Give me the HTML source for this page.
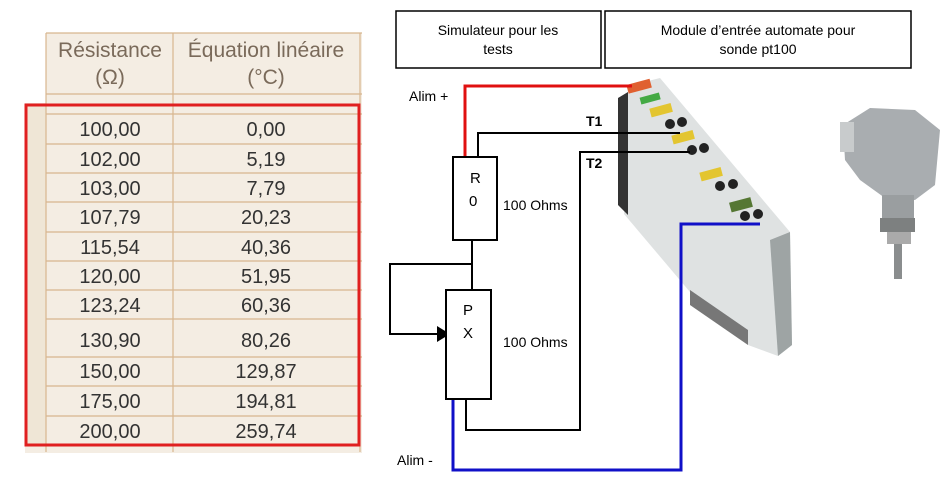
<!DOCTYPE html>
<html><head><meta charset="utf-8"><style>
body{margin:0;width:949px;height:495px;background:#fff;overflow:hidden;font-family:"Liberation Sans",sans-serif}
</style></head><body>
<svg width="949" height="495" viewBox="0 0 949 495" xmlns="http://www.w3.org/2000/svg" font-family="Liberation Sans, sans-serif">
<!-- table -->
<rect x="25" y="33" width="337" height="420" fill="#f4ede3"/>
<rect x="25" y="33" width="21" height="70" fill="#fff"/>
<rect x="25" y="104" width="21" height="342" fill="#efe6d6"/>
<g stroke="#d8b68f" stroke-width="1.2">
<line x1="46" y1="33" x2="362" y2="33"/>
<line x1="46" y1="33" x2="46" y2="452"/>
<line x1="173" y1="33" x2="173" y2="452"/>
<line x1="360" y1="33" x2="360" y2="452"/>
<line x1="46" y1="94" x2="362" y2="94"/>
<line x1="46" y1="114" x2="362" y2="114"/>
<line x1="46" y1="144" x2="362" y2="144"/>
<line x1="46" y1="173" x2="362" y2="173"/>
<line x1="46" y1="202" x2="362" y2="202"/>
<line x1="46" y1="232" x2="362" y2="232"/>
<line x1="46" y1="261" x2="362" y2="261"/>
<line x1="46" y1="290" x2="362" y2="290"/>
<line x1="46" y1="319" x2="362" y2="319"/>
<line x1="46" y1="357" x2="362" y2="357"/>
<line x1="46" y1="386" x2="362" y2="386"/>
<line x1="46" y1="416" x2="362" y2="416"/>
</g>
<g font-size="21" fill="#7a6a5a" text-anchor="middle">
<text x="110" y="57">Résistance</text><text x="266" y="57">Équation linéaire</text>
<text x="110" y="84">(Ω)</text><text x="266" y="84">(°C)</text>
</g>
<g font-size="20" fill="#333" text-anchor="middle">
<text x="110" y="136">100,00</text><text x="266" y="136">0,00</text>
<text x="110" y="166">102,00</text><text x="266" y="166">5,19</text>
<text x="110" y="195">103,00</text><text x="266" y="195">7,79</text>
<text x="110" y="224">107,79</text><text x="266" y="224">20,23</text>
<text x="110" y="254">115,54</text><text x="266" y="254">40,36</text>
<text x="110" y="283">120,00</text><text x="266" y="283">51,95</text>
<text x="110" y="312">123,24</text><text x="266" y="312">60,36</text>
<text x="110" y="347">130,90</text><text x="266" y="347">80,26</text>
<text x="110" y="378">150,00</text><text x="266" y="378">129,87</text>
<text x="110" y="408">175,00</text><text x="266" y="408">194,81</text>
<text x="110" y="438">200,00</text><text x="266" y="438">259,74</text>
</g>
<rect x="26" y="105" width="333" height="340" fill="none" stroke="#e02020" stroke-width="3"/>

<!-- top boxes -->
<rect x="396" y="11" width="205" height="57" fill="#fff" stroke="#000" stroke-width="1.5"/>
<rect x="605" y="11" width="306" height="57" fill="#fff" stroke="#000" stroke-width="1.5"/>
<g font-size="14" text-anchor="middle" fill="#000">
<text x="498" y="35">Simulateur pour les</text><text x="498" y="54">tests</text>
<text x="758" y="35">Module d’entrée automate pour</text><text x="758" y="54">sonde pt100</text>
</g>

<!-- module -->
<polygon points="628,86 660,78 790,232 792,345 778,356 748,345 690,292 624,214" fill="#dfe2e2"/>
<polygon points="618,98 628,92 628,215 618,205" fill="#333"/>
<polygon points="770,240 790,232 792,345 778,356" fill="#9ea4a4"/>
<polygon points="690,290 748,330 748,345 690,305" fill="#777"/>
<g fill="#e3c530"><rect x="650" y="106" width="22" height="9" transform="rotate(-15 660 110)"/><rect x="672" y="133" width="22" height="9" transform="rotate(-15 682 137)"/><rect x="700" y="170" width="22" height="9" transform="rotate(-15 710 174)"/></g>
<rect x="627" y="82" width="24" height="9" fill="#e06030" transform="rotate(-15 638 86)"/>
<rect x="640" y="95" width="20" height="7" fill="#4a4" transform="rotate(-15 650 98)"/>
<rect x="730" y="200" width="22" height="10" fill="#557733" transform="rotate(-15 740 205)"/>
<g fill="#222"><circle cx="670" cy="124" r="5"/><circle cx="682" cy="122" r="5"/><circle cx="692" cy="150" r="5"/><circle cx="704" cy="148" r="5"/><circle cx="720" cy="186" r="5"/><circle cx="733" cy="184" r="5"/><circle cx="745" cy="216" r="5"/><circle cx="758" cy="214" r="5"/></g>

<!-- sensor -->
<path d="M843,125 L870,108 L915,110 L940,130 L935,185 L915,200 L885,198 L860,180 L845,160 Z" fill="#a9adb0"/>
<rect x="840" y="122" width="14" height="30" fill="#c8cbcc"/>
<rect x="882" y="195" width="32" height="25" fill="#9a9ea0"/>
<rect x="880" y="218" width="35" height="14" fill="#7d8080"/>
<rect x="887" y="232" width="24" height="12" fill="#aaa"/>
<rect x="894" y="244" width="8" height="35" fill="#8a8d8e"/>

<!-- wires -->
<g fill="none" stroke-width="3">
<polyline points="465,157 465,86 632,86" stroke="#e01010"/>
<polyline points="453,399 453,470 681,470 681,224 760,224" stroke="#1010c8"/>
</g>
<g fill="none" stroke="#000" stroke-width="2">
<polyline points="478,157 478,133 680,133"/>
<polyline points="690,152 580,152 580,430 466,430 466,399"/>
<polyline points="472,240 472,290"/>
<polyline points="472,264 390,264 390,334 440,334"/>
</g>
<polygon points="437,326 450,334 437,342" fill="#000"/>
<rect x="453" y="157" width="44" height="83" fill="#fff" stroke="#000" stroke-width="2"/>
<rect x="446" y="290" width="45" height="109" fill="#fff" stroke="#000" stroke-width="2"/>
<g font-size="15" fill="#000">
<text x="470" y="183">R</text><text x="469" y="206">0</text>
<text x="463" y="315">P</text><text x="463" y="338">X</text>
<text x="503" y="210" font-size="14">100 Ohms</text>
<text x="503" y="347" font-size="14">100 Ohms</text>
<text x="409" y="101" font-size="14">Alim +</text>
<text x="397" y="465" font-size="14">Alim -</text>
<text x="586" y="126" font-size="14" font-weight="bold">T1</text>
<text x="586" y="168" font-size="14" font-weight="bold">T2</text>
</g>
</svg>
</body></html>
